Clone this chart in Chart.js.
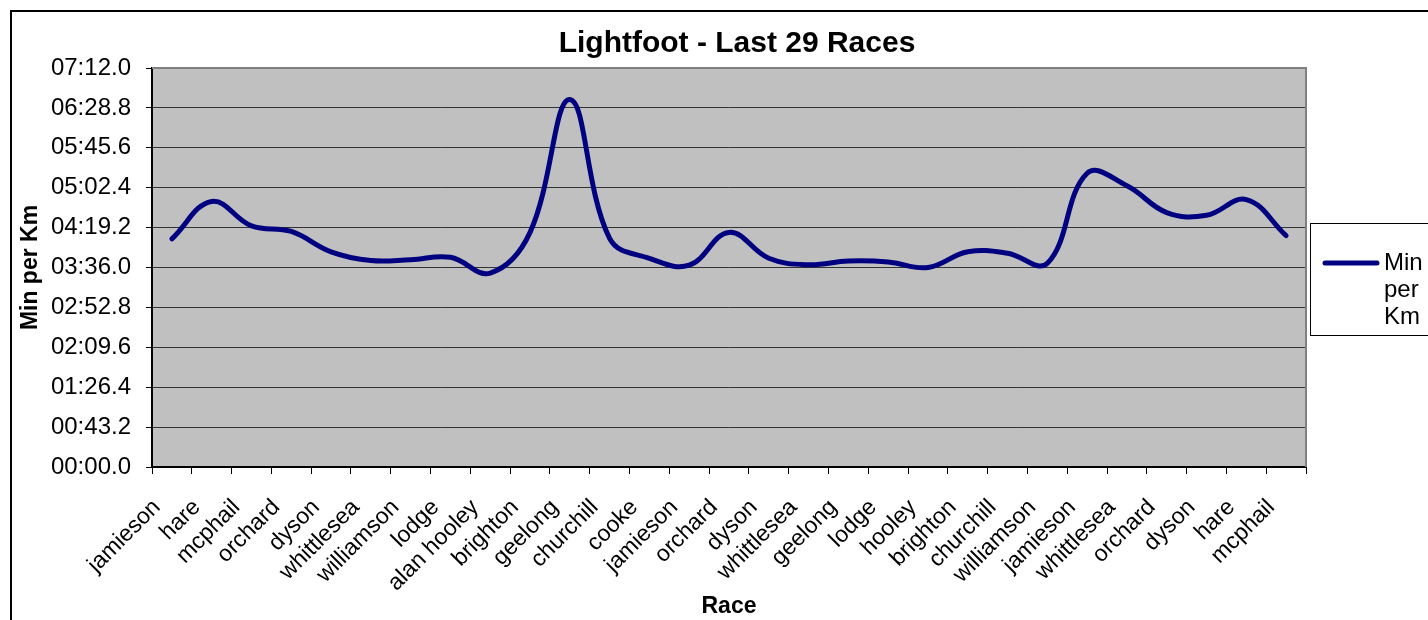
<!DOCTYPE html>
<html>
<head>
<meta charset="utf-8">
<title>Lightfoot - Last 29 Races</title>
<script src="https://cdn.jsdelivr.net/npm/chart.js@4/dist/chart.umd.min.js"></script>
<style>
  html, body { margin: 0; padding: 0; overflow: hidden; background: #fff; }
  #frame { position: absolute; left: 10px; top: 10px; width: 1450px; height: 640px; border: 2px solid #000; }
  #chart { display: block; }
</style>
</head>
<body>
<div id="frame"><canvas id="chart" width="1450" height="640"></canvas></div>
<script>
// races, oldest first
const races = ['jamieson', 'hare', 'mcphail', 'orchard', 'dyson', 'whittlesea', 'williamson', 'lodge',
  'alan hooley', 'brighton', 'geelong', 'churchill', 'cooke', 'jamieson', 'orchard', 'dyson', 'whittlesea',
  'geelong', 'lodge', 'hooley', 'brighton', 'churchill', 'williamson', 'jamieson', 'whittlesea', 'orchard',
  'dyson', 'hare', 'mcphail'];

// pace in seconds per km
const minPerKm = [247, 287.5, 261, 255, 233, 223.5, 224.5, 227, 210, 254, 398, 247.5, 226, 218.5, 254,
  226, 219, 223, 222, 216, 233, 231.5, 220.5, 318, 304.5, 275.5, 272.5, 289.5, 250.5];

const yTickLabels = ['00:00.0', '00:43.2', '01:26.4', '02:09.6', '02:52.8', '03:36.0', '04:19.2',
  '05:02.4', '05:45.6', '06:28.8', '07:12.0'];
const yMax = 432;
const yStep = 43.2;

Chart.defaults.font.family = '"Liberation Sans", Arial, sans-serif';
Chart.defaults.color = '#000';

// grey plot area with the excel style frame
const plotFrame = {
  id: 'plotFrame',
  beforeDraw(chart) {
    const a = chart.chartArea;
    const ctx = chart.ctx;
    ctx.save();
    ctx.fillStyle = '#c0c0c0';
    ctx.fillRect(a.left, a.top, a.width, a.height);
    ctx.restore();
  },
  beforeDatasetsDraw(chart) {
    const a = chart.chartArea;
    const ctx = chart.ctx;
    ctx.save();
    ctx.strokeStyle = '#808080';
    ctx.lineWidth = 2;
    ctx.beginPath();
    ctx.moveTo(a.left, a.top);
    ctx.lineTo(a.right, a.top);
    ctx.lineTo(a.right, a.bottom);
    ctx.stroke();
    ctx.restore();
  }
};

// legend in a box, label wrapped one word a line
const legendBox = {
  id: 'legendBox',
  afterDraw(chart) {
    const ds = chart.data.datasets[0];
    const ctx = chart.ctx;
    const left = chart.chartArea.right + 4;
    const top = 211;
    ctx.save();
    ctx.fillStyle = '#fff';
    ctx.fillRect(left, top, 300, 112);
    ctx.strokeStyle = '#000';
    ctx.lineWidth = 1;
    ctx.strokeRect(left + 0.5, top + 0.5, 300, 112);
    ctx.strokeStyle = ds.borderColor;
    ctx.lineWidth = 5;
    ctx.lineCap = 'round';
    ctx.beginPath();
    ctx.moveTo(left + 15, top + 40);
    ctx.lineTo(left + 67, top + 40);
    ctx.stroke();
    ctx.fillStyle = '#000';
    ctx.font = '24px "Liberation Sans", Arial, sans-serif';
    ctx.textBaseline = 'middle';
    ds.label.split(' ').forEach((w, i) => ctx.fillText(w, left + 74, top + 40 + i * 27));
    ctx.restore();
  }
};

const chart = new Chart(document.getElementById('chart'), {
  type: 'line',
  data: {
    labels: races,
    datasets: [{
      label: 'Min per Km',
      data: minPerKm,
      borderColor: '#000080',
      borderWidth: 5,
      borderCapStyle: 'round',
      borderJoinStyle: 'round',
      pointRadius: 0,
      tension: 0.4,
      fill: false
    }]
  },
  options: {
    responsive: false,
    animation: false,
    layout: { padding: { left: 0, right: 0, top: 0, bottom: 32 } },
    plugins: {
      legend: { display: false },
      tooltip: { enabled: false },
      title: {
        display: true,
        text: 'Lightfoot - Last 29 Races',
        color: '#000',
        font: { size: 30, weight: 'bold' },
        padding: { top: 14, bottom: 6 }
      }
    },
    scales: {
      x: {
        offset: true,
        grid: { offset: true, drawOnChartArea: false, tickLength: 7, tickColor: '#000' },
        border: { color: '#000', width: 2 },
        ticks: { autoSkip: false, minRotation: 45, maxRotation: 45, font: { size: 23 }, padding: 20, labelOffset: -15 },
        title: { display: true, text: 'Race', font: { size: 23, weight: 'bold' }, padding: { top: 0, bottom: 0 } },
        afterFit(scale) { scale.height = 153; }
      },
      y: {
        min: 0,
        max: yMax,
        grid: {
          color: c => (c.tick && c.tick.value >= yMax ? '#808080' : '#333'),
          tickLength: 6,
          tickColor: '#000'
        },
        border: { color: '#000', width: 2 },
        ticks: {
          stepSize: yStep,
          font: { size: 24 },
          padding: 15,
          callback: (v, i) => yTickLabels[i]
        },
        title: { display: true, text: 'Min per Km', font: { size: 23, weight: 'bold' }, padding: { top: 5, bottom: 0 } },
        afterFit(scale) { scale.width = 140; }
      },
      gap: {
        position: 'right',
        grid: { display: false },
        border: { display: false },
        ticks: { display: false },
        afterFit(scale) { scale.width = 156; }
      }
    }
  },
  plugins: [plotFrame, legendBox]
});
</script>
</body>
</html>
